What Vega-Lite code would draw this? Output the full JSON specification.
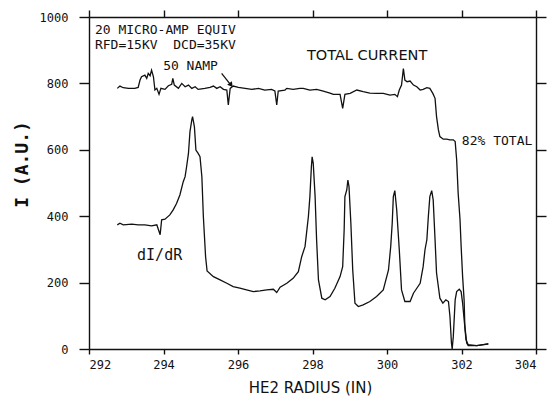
{
  "$schema": "https://vega.github.io/schema/vega-lite/v6.json",
  "autosize": {"type": "none"},
  "padding": {"left": 89, "top": 17, "right": 11, "bottom": 47},
  "width": 447,
  "height": 332,
  "background": "white",
  "config": {
    "view": {"stroke": null},
    "axis": {
      "grid": false,
      "domainColor": "#111",
      "domainWidth": 1.4,
      "tickColor": "#111",
      "tickWidth": 1.4,
      "labelColor": "#111",
      "titleColor": "#111",
      "labelFont": "DejaVu Sans Mono",
      "labelFontSize": 12
    }
  },
  "datasets": {
    "total": [
      {"r": 292.76, "i": 785}, {"r": 292.83, "i": 792}, {"r": 292.92, "i": 787}, {"r": 293.06, "i": 785},
      {"r": 293.23, "i": 785}, {"r": 293.32, "i": 788}, {"r": 293.37, "i": 810}, {"r": 293.41, "i": 820},
      {"r": 293.5, "i": 825}, {"r": 293.55, "i": 815}, {"r": 293.59, "i": 830}, {"r": 293.64, "i": 823},
      {"r": 293.68, "i": 840}, {"r": 293.73, "i": 820}, {"r": 293.77, "i": 780}, {"r": 293.82, "i": 785},
      {"r": 293.88, "i": 767}, {"r": 293.93, "i": 785}, {"r": 294.04, "i": 782}, {"r": 294.13, "i": 793},
      {"r": 294.22, "i": 797}, {"r": 294.25, "i": 815}, {"r": 294.29, "i": 795}, {"r": 294.4, "i": 785},
      {"r": 294.49, "i": 800}, {"r": 294.58, "i": 790}, {"r": 294.67, "i": 795}, {"r": 294.76, "i": 785},
      {"r": 294.85, "i": 790}, {"r": 294.93, "i": 782}, {"r": 295.11, "i": 785}, {"r": 295.25, "i": 788},
      {"r": 295.34, "i": 792}, {"r": 295.43, "i": 785}, {"r": 295.52, "i": 790}, {"r": 295.61, "i": 782},
      {"r": 295.7, "i": 780}, {"r": 295.74, "i": 735}, {"r": 295.79, "i": 785}, {"r": 295.87, "i": 792},
      {"r": 296.01, "i": 788}, {"r": 296.19, "i": 785}, {"r": 296.37, "i": 782}, {"r": 296.55, "i": 785},
      {"r": 296.72, "i": 780}, {"r": 296.9, "i": 782}, {"r": 296.99, "i": 777}, {"r": 297.04, "i": 735},
      {"r": 297.08, "i": 777}, {"r": 297.26, "i": 780}, {"r": 297.31, "i": 785}, {"r": 297.48, "i": 782},
      {"r": 297.66, "i": 785}, {"r": 297.75, "i": 785}, {"r": 297.93, "i": 780}, {"r": 298.11, "i": 782},
      {"r": 298.29, "i": 777}, {"r": 298.47, "i": 771}, {"r": 298.56, "i": 767}, {"r": 298.74, "i": 767},
      {"r": 298.81, "i": 725}, {"r": 298.87, "i": 767}, {"r": 299.01, "i": 770}, {"r": 299.19, "i": 780},
      {"r": 299.36, "i": 775}, {"r": 299.54, "i": 771}, {"r": 299.72, "i": 770}, {"r": 299.9, "i": 770},
      {"r": 300.08, "i": 765}, {"r": 300.21, "i": 767}, {"r": 300.28, "i": 760}, {"r": 300.33, "i": 780},
      {"r": 300.39, "i": 795}, {"r": 300.44, "i": 845}, {"r": 300.48, "i": 810}, {"r": 300.54, "i": 805},
      {"r": 300.62, "i": 807}, {"r": 300.71, "i": 795}, {"r": 300.8, "i": 790}, {"r": 300.89, "i": 780},
      {"r": 300.97, "i": 782}, {"r": 301.07, "i": 787}, {"r": 301.15, "i": 785}, {"r": 301.23, "i": 770},
      {"r": 301.29, "i": 755}, {"r": 301.33, "i": 700}, {"r": 301.38, "i": 660}, {"r": 301.42, "i": 640},
      {"r": 301.51, "i": 632}, {"r": 301.6, "i": 632}, {"r": 301.69, "i": 630}, {"r": 301.78, "i": 630},
      {"r": 301.83, "i": 625}, {"r": 301.87, "i": 570}, {"r": 301.91, "i": 470}, {"r": 301.96, "i": 390},
      {"r": 301.99, "i": 310}, {"r": 302.03, "i": 218}, {"r": 302.07, "i": 148}, {"r": 302.09, "i": 68},
      {"r": 302.14, "i": 18}, {"r": 302.18, "i": 10}, {"r": 302.41, "i": 10}, {"r": 302.59, "i": 13},
      {"r": 302.72, "i": 15}
    ],
    "deriv": [
      {"r": 292.76, "i": 374}, {"r": 292.83, "i": 379}, {"r": 292.92, "i": 374}, {"r": 293.15, "i": 376},
      {"r": 293.32, "i": 374}, {"r": 293.5, "i": 374}, {"r": 293.68, "i": 371}, {"r": 293.82, "i": 374},
      {"r": 293.91, "i": 344}, {"r": 293.95, "i": 389}, {"r": 294.04, "i": 391}, {"r": 294.17, "i": 404},
      {"r": 294.26, "i": 419}, {"r": 294.35, "i": 438}, {"r": 294.44, "i": 464}, {"r": 294.53, "i": 504},
      {"r": 294.58, "i": 519}, {"r": 294.62, "i": 549}, {"r": 294.67, "i": 589}, {"r": 294.71, "i": 654},
      {"r": 294.76, "i": 690}, {"r": 294.78, "i": 700}, {"r": 294.83, "i": 669}, {"r": 294.87, "i": 599},
      {"r": 294.93, "i": 589}, {"r": 294.98, "i": 579}, {"r": 295.03, "i": 519}, {"r": 295.07, "i": 399},
      {"r": 295.13, "i": 278}, {"r": 295.17, "i": 235}, {"r": 295.34, "i": 218}, {"r": 295.52, "i": 208},
      {"r": 295.7, "i": 198}, {"r": 295.87, "i": 188}, {"r": 296.05, "i": 183}, {"r": 296.23, "i": 178},
      {"r": 296.41, "i": 173}, {"r": 296.59, "i": 175}, {"r": 296.77, "i": 178}, {"r": 296.95, "i": 180},
      {"r": 297.04, "i": 170}, {"r": 297.13, "i": 186}, {"r": 297.31, "i": 198}, {"r": 297.48, "i": 213},
      {"r": 297.62, "i": 233}, {"r": 297.71, "i": 278}, {"r": 297.8, "i": 309}, {"r": 297.84, "i": 349},
      {"r": 297.89, "i": 399}, {"r": 297.93, "i": 459}, {"r": 297.97, "i": 549}, {"r": 297.99, "i": 579},
      {"r": 298.02, "i": 559}, {"r": 298.07, "i": 459}, {"r": 298.11, "i": 329}, {"r": 298.16, "i": 208},
      {"r": 298.25, "i": 153}, {"r": 298.34, "i": 148}, {"r": 298.47, "i": 158}, {"r": 298.6, "i": 183},
      {"r": 298.74, "i": 218}, {"r": 298.81, "i": 248}, {"r": 298.85, "i": 359}, {"r": 298.87, "i": 459},
      {"r": 298.92, "i": 479}, {"r": 298.95, "i": 509}, {"r": 298.98, "i": 489}, {"r": 299.03, "i": 379},
      {"r": 299.08, "i": 238}, {"r": 299.14, "i": 138}, {"r": 299.23, "i": 128}, {"r": 299.36, "i": 133},
      {"r": 299.54, "i": 143}, {"r": 299.72, "i": 158}, {"r": 299.9, "i": 178}, {"r": 300.04, "i": 238},
      {"r": 300.1, "i": 309}, {"r": 300.14, "i": 379}, {"r": 300.17, "i": 459}, {"r": 300.21, "i": 477},
      {"r": 300.26, "i": 420}, {"r": 300.33, "i": 299}, {"r": 300.39, "i": 178}, {"r": 300.48, "i": 143},
      {"r": 300.62, "i": 143}, {"r": 300.71, "i": 168}, {"r": 300.8, "i": 183}, {"r": 300.89, "i": 198},
      {"r": 300.97, "i": 248}, {"r": 301.02, "i": 299}, {"r": 301.07, "i": 329}, {"r": 301.11, "i": 399},
      {"r": 301.15, "i": 459}, {"r": 301.2, "i": 477}, {"r": 301.24, "i": 449}, {"r": 301.29, "i": 329},
      {"r": 301.33, "i": 229}, {"r": 301.42, "i": 153}, {"r": 301.5, "i": 138}, {"r": 301.58, "i": 148},
      {"r": 301.65, "i": 143}, {"r": 301.69, "i": 98}, {"r": 301.73, "i": 18}, {"r": 301.75, "i": 0},
      {"r": 301.78, "i": 38}, {"r": 301.83, "i": 148}, {"r": 301.87, "i": 173}, {"r": 301.94, "i": 180},
      {"r": 301.99, "i": 173}, {"r": 302.03, "i": 138}, {"r": 302.08, "i": 78}, {"r": 302.12, "i": 28},
      {"r": 302.18, "i": 13}, {"r": 302.41, "i": 10}, {"r": 302.59, "i": 13}, {"r": 302.72, "i": 16}
    ]
  },
  "resolve": {"axis": {"x": "independent", "y": "independent"}},
  "layer": [
    {
      "data": {"name": "total"},
      "mark": {"type": "line", "color": "#111", "strokeWidth": 1.3},
      "encoding": {
        "x": {
          "field": "r", "type": "quantitative",
          "scale": {"domain": [292, 304], "nice": false, "zero": false},
          "axis": {
            "orient": "bottom", "values": [292, 294, 296, 298, 300, 302, 304],
            "tickSize": 5, "labelPadding": 5, "format": "d",
            "title": "HE2 RADIUS (IN)", "titleFont": "DejaVu Sans", "titleFontSize": 15,
            "titleFontWeight": "normal", "titleX": 221, "titleY": 38,
            "titleBaseline": "middle", "titleAlign": "center"
          }
        },
        "y": {
          "field": "i", "type": "quantitative",
          "scale": {"domain": [0, 1000], "nice": false},
          "axis": {
            "orient": "left", "values": [0, 200, 400, 600, 800, 1000],
            "tickSize": 10, "labelPadding": 11, "format": "d",
            "title": "I (A.U.)", "titleFont": "DejaVu Sans Mono", "titleFontSize": 18,
            "titleFontWeight": "bold", "titleX": -67, "titleY": 147, "titleAngle": -90,
            "titleBaseline": "middle", "titleAlign": "center"
          }
        }
      }
    },
    {
      "data": {"name": "deriv"},
      "mark": {"type": "line", "color": "#111", "strokeWidth": 1.3},
      "encoding": {
        "x": {
          "field": "r", "type": "quantitative",
          "axis": {"orient": "top", "values": [292, 294, 296, 298, 300, 302, 304], "labels": false, "tickSize": 7, "title": null}
        },
        "y": {
          "field": "i", "type": "quantitative",
          "axis": {"orient": "right", "values": [0, 200, 400, 600, 800, 1000], "labels": false, "tickSize": 10, "title": null}
        }
      }
    },
    {
      "data": {"values": [
        {"r": 292.16, "i": 960, "t": "20 MICRO-AMP EQUIV"},
        {"r": 292.16, "i": 917, "t": "RFD=15KV\u00a0\u00a0DCD=35KV"},
        {"r": 293.99, "i": 852, "t": "50 NAMP"},
        {"r": 302.01, "i": 626, "t": "82% TOTAL"}
      ]},
      "mark": {"type": "text", "font": "DejaVu Sans Mono", "fontSize": 13, "align": "left", "baseline": "middle", "color": "#111"},
      "encoding": {
        "x": {"field": "r", "type": "quantitative", "axis": null},
        "y": {"field": "i", "type": "quantitative", "axis": null},
        "text": {"field": "t"}
      }
    },
    {
      "data": {"values": [{"r": 293.29, "i": 284, "t": "dI/dR"}]},
      "mark": {"type": "text", "font": "DejaVu Sans Mono", "fontSize": 15, "align": "left", "baseline": "middle", "color": "#111"},
      "encoding": {
        "x": {"field": "r", "type": "quantitative", "axis": null},
        "y": {"field": "i", "type": "quantitative", "axis": null},
        "text": {"field": "t"}
      }
    },
    {
      "data": {"values": [{"r": 297.85, "i": 883, "t": "TOTAL CURRENT"}]},
      "mark": {"type": "text", "font": "DejaVu Sans", "fontSize": 14.5, "align": "left", "baseline": "middle", "color": "#111"},
      "encoding": {
        "x": {"field": "r", "type": "quantitative", "axis": null},
        "y": {"field": "i", "type": "quantitative", "axis": null},
        "text": {"field": "t"}
      }
    },
    {
      "data": {"values": [{"r": 295.56, "i": 830, "r2": 295.81, "i2": 795}]},
      "mark": {"type": "rule", "color": "#111", "strokeWidth": 1.3},
      "encoding": {
        "x": {"field": "r", "type": "quantitative", "axis": null},
        "y": {"field": "i", "type": "quantitative", "axis": null},
        "x2": {"field": "r2"},
        "y2": {"field": "i2"}
      }
    },
    {
      "data": {"values": [{"r": 295.8, "i": 797}]},
      "mark": {"type": "point", "shape": "triangle", "filled": true, "color": "#111", "size": 35, "angle": 143, "opacity": 1},
      "encoding": {
        "x": {"field": "r", "type": "quantitative", "axis": null},
        "y": {"field": "i", "type": "quantitative", "axis": null}
      }
    }
  ]
}
